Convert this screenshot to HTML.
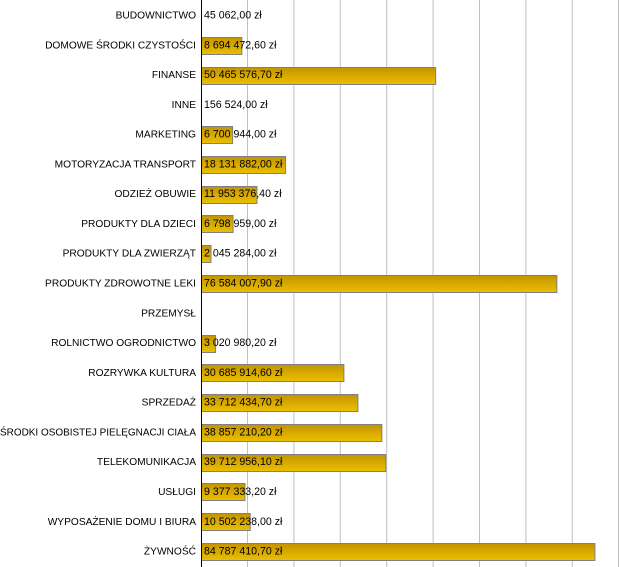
<!DOCTYPE html>
<html><head><meta charset="utf-8"><style>
html,body{margin:0;padding:0;background:#fff;}
svg{display:block;font-family:"Liberation Sans",Arial,sans-serif;font-size:11px;}
</style></head><body>
<svg width="619" height="567" viewBox="0 0 619 567" xmlns="http://www.w3.org/2000/svg">
<defs>
<linearGradient id="g" x1="0" y1="0" x2="0" y2="1">
<stop offset="0" stop-color="#c49400"/>
<stop offset="1" stop-color="#ecc000"/>
</linearGradient>
</defs>
<g stroke="#c0c0c0" stroke-width="1">
<line x1="247.5" y1="0" x2="247.5" y2="567"/>
<line x1="293.9" y1="0" x2="293.9" y2="567"/>
<line x1="340.3" y1="0" x2="340.3" y2="567"/>
<line x1="386.7" y1="0" x2="386.7" y2="567"/>
<line x1="433.1" y1="0" x2="433.1" y2="567"/>
<line x1="479.5" y1="0" x2="479.5" y2="567"/>
<line x1="525.9" y1="0" x2="525.9" y2="567"/>
<line x1="572.3" y1="0" x2="572.3" y2="567"/>
<line x1="618.5" y1="0" x2="618.5" y2="567"/>
</g>
<g id="bars" fill="url(#g)" stroke="#808080" stroke-width="1"></g>
<line x1="201.5" y1="0" x2="201.5" y2="567" stroke="#000" stroke-width="1"/>
<g id="labels" text-anchor="end" fill="#000" font-size="10.2"></g>
<g id="vals" fill="#000" font-size="10.6"></g>
</svg>
<script>
var d=[["BUDOWNICTWO",45062.00,"45 062,00 zł"],["DOMOWE ŚRODKI CZYSTOŚCI",8694472.60,"8 694 472,60 zł"],["FINANSE",50465576.70,"50 465 576,70 zł"],["INNE",156524.00,"156 524,00 zł"],["MARKETING",6700944.00,"6 700 944,00 zł"],["MOTORYZACJA TRANSPORT",18131882.00,"18 131 882,00 zł"],["ODZIEŻ OBUWIE",11953376.40,"11 953 376,40 zł"],["PRODUKTY DLA DZIECI",6798959.00,"6 798 959,00 zł"],["PRODUKTY DLA ZWIERZĄT",2045284.00,"2 045 284,00 zł"],["PRODUKTY ZDROWOTNE LEKI",76584007.90,"76 584 007,90 zł"],["PRZEMYSŁ",0,""],["ROLNICTWO OGRODNICTWO",3020980.20,"3 020 980,20 zł"],["ROZRYWKA KULTURA",30685914.60,"30 685 914,60 zł"],["SPRZEDAŻ",33712434.70,"33 712 434,70 zł"],["ŚRODKI OSOBISTEJ PIELĘGNACJI CIAŁA",38857210.20,"38 857 210,20 zł"],["TELEKOMUNIKACJA",39712956.10,"39 712 956,10 zł"],["USŁUGI",9377333.20,"9 377 333,20 zł"],["WYPOSAŻENIE DOMU I BIURA",10502238.00,"10 502 238,00 zł"],["ŻYWNOŚĆ",84787410.70,"84 787 410,70 zł"]];
var ns="http://www.w3.org/2000/svg",B=document.getElementById("bars"),L=document.getElementById("labels"),V=document.getElementById("vals");
d.forEach(function(r,i){
 var c=15+i*29.78,w=r[1]*4.64e-6;
 if(w>=1){var e=document.createElementNS(ns,"rect");e.setAttribute("x",201.5);e.setAttribute("y",Math.round(c-8)+0.5);e.setAttribute("width",w);e.setAttribute("height",17);B.appendChild(e);}
 var t=document.createElementNS(ns,"text");t.setAttribute("x",196);t.setAttribute("y",c+3.5);t.textContent=r[0];
 if(r[0].length>30){t.setAttribute("textLength",196);t.setAttribute("lengthAdjust","spacingAndGlyphs");}
 L.appendChild(t);
 if(r[2]){var v=document.createElementNS(ns,"text");v.setAttribute("x",204);v.setAttribute("y",c+3.5);v.textContent=r[2];V.appendChild(v);}
});
</script>
</body></html>
